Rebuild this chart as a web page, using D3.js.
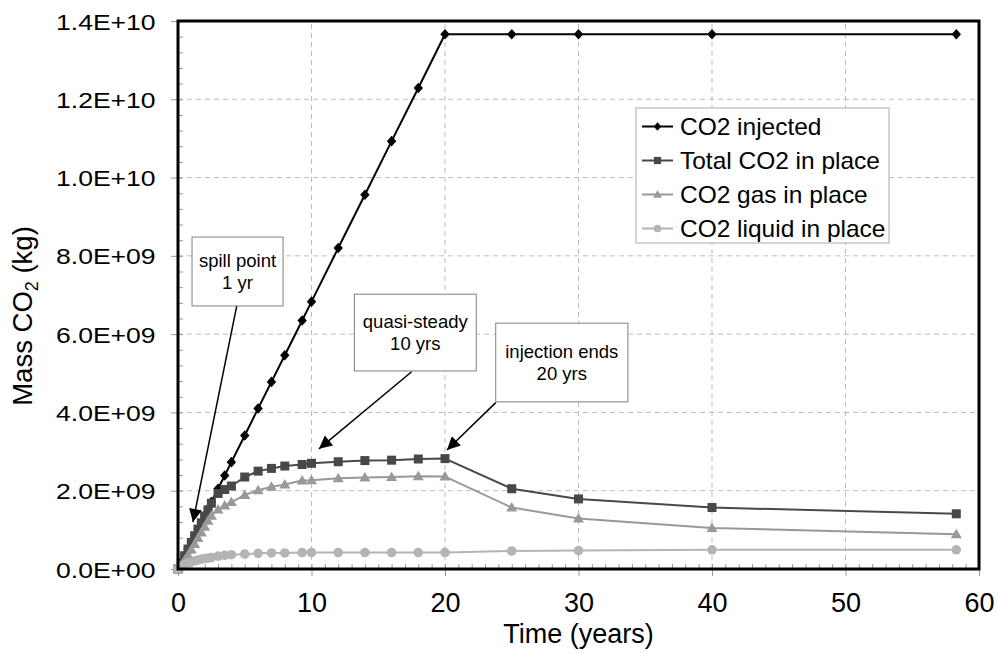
<!DOCTYPE html>
<html><head><meta charset="utf-8">
<script src="https://cdn.jsdelivr.net/npm/d3@7"></script>
<style>
body{margin:0;background:#fff}
text{font-family:"Liberation Sans",Arial,sans-serif;fill:#000}
</style>
</head><body>
<svg id="c" width="998" height="654"></svg>
<script>
// ---- data (time in years, mass in 1e9 kg) ----
const times    = [0,0.25,0.5,0.75,1,1.25,1.5,1.75,2,2.25,2.5,3,3.5,4,5,6,7,8,9.3,10,12,14,16,18,20,25,30,40,58.3];
const injected = [0,0.17,0.34,0.51,0.68,0.85,1.02,1.19,1.37,1.54,1.71,2.05,2.39,2.73,3.41,4.10,4.78,5.46,6.35,6.83,8.20,9.56,10.93,12.29,13.66,13.66,13.66,13.66,13.66];
const totalInPlace = [0,0.17,0.34,0.51,0.68,0.85,1.02,1.18,1.35,1.51,1.68,1.93,2.03,2.12,2.35,2.50,2.57,2.63,2.67,2.70,2.74,2.77,2.78,2.81,2.82,2.05,1.79,1.57,1.41];
const gasInPlace   = [0,0.11,0.23,0.36,0.50,0.64,0.79,0.93,1.08,1.23,1.36,1.52,1.62,1.71,1.89,2.01,2.10,2.16,2.26,2.27,2.32,2.34,2.35,2.37,2.36,1.57,1.29,1.05,0.89];
const liquidInPlace= [0,0.06,0.11,0.15,0.18,0.21,0.23,0.25,0.27,0.28,0.29,0.33,0.35,0.365,0.38,0.40,0.41,0.41,0.42,0.42,0.42,0.42,0.42,0.42,0.42,0.46,0.47,0.49,0.49];
const seriesNames  = ["CO2 injected","Total CO2 in place","CO2 gas in place","CO2 liquid in place"];
const xTicks = [0,10,20,30,40,50,60];
const yTicks = [0,2e9,4e9,6e9,8e9,1e10,1.2e10,1.4e10];
// annotations: label lines, box corners (years, kg), arrow start & tip (years, kg)
const annLabels = [["spill point","1 yr"],["quasi-steady","10 yrs"],["injection ends","20 yrs"]];
const annBoxes  = [[1.05,8.48e9,7.87,6.72e9],[13.21,7.02e9,22.34,5.06e9],[23.8,6.28e9,33.7,4.27e9]];
const annArrows = [[4.4,6.72e9,1.12,1.2e9],[17.5,5.04e9,10.56,3.07e9],[23.8,4.25e9,20.15,3.04e9]];

const svg = d3.select("#c");
const x = d3.scaleLinear().domain([0,60]).range([178,979]);
const y = d3.scaleLinear().domain([0,1.4e10]).range([569,21]);

const styles = [
  {color:"#000000", sym:"diamond", lw:2},
  {color:"#484848", sym:"square", lw:2},
  {color:"#999999", sym:"triangle", lw:2},
  {color:"#b4b4b4", sym:"circle", lw:2}
];
const seriesVals = [injected,totalInPlace,gasInPlace,liquidInPlace];

function marker(sel, sym, color, k){
  k = k||1;
  if(sym==="diamond") sel.append("path").attr("d",`M0,${-5.3*k}L${4.7*k},0L0,${5.3*k}L${-4.7*k},0Z`).attr("fill",color);
  else if(sym==="square") sel.append("rect").attr("x",-4.5*k).attr("y",-4.5*k).attr("width",9*k).attr("height",9*k).attr("fill",color);
  else if(sym==="triangle") sel.append("path").attr("d",`M0,${-5.5*k}L${5.5*k},${4*k}L${-5.5*k},${4*k}Z`).attr("fill",color);
  else sel.append("circle").attr("r",4.8*k).attr("fill",color);
}

// grid
const grid = svg.append("g");
grid.selectAll("line.gx").data(xTicks.filter(d=>d>0&&d<60)).join("line")
  .attr("x1",d=>x(d)).attr("x2",d=>x(d)).attr("y1",y(0)).attr("y2",y(1.4e10))
  .attr("stroke","#bdbdbd").attr("stroke-dasharray","5,4");
grid.selectAll("line.gy").data(yTicks.filter(d=>d>0&&d<1.4e10)).join("line")
  .attr("y1",d=>y(d)).attr("y2",d=>y(d)).attr("x1",x(0)).attr("x2",x(60))
  .attr("stroke","#bdbdbd").attr("stroke-dasharray","5,4");

// minor ticks (inside)
const gxm = svg.append("g").attr("transform",`translate(0,${y(0)})`)
  .call(d3.axisBottom(x).tickValues(d3.range(1,60)).tickSize(-5).tickFormat(""));
gxm.select(".domain").remove(); gxm.selectAll("line").attr("stroke","#999");
const gym = svg.append("g").attr("transform",`translate(${x(0)},0)`)
  .call(d3.axisLeft(y).tickValues(d3.range(1,35).map(i=>i*4e8)).tickSize(-5).tickFormat(""));
gym.select(".domain").remove(); gym.selectAll("line").attr("stroke","#999");

// major axes
const fmt = d => { if(d===0) return "0.0E+00"; const e=Math.floor(Math.log10(d)+1e-9); const m=d/Math.pow(10,e); return m.toFixed(1)+"E+"+String(e).padStart(2,"0"); };
const gx = svg.append("g").attr("transform",`translate(0,${y(0)})`)
  .call(d3.axisBottom(x).tickValues(xTicks).tickSize(7).tickSizeOuter(0).tickFormat(d3.format("d")));
gx.select(".domain").remove();
gx.selectAll("line").attr("stroke","#999");
gx.selectAll("text").attr("font-size",27).attr("y",43).attr("dy",0).style("font-family","'Liberation Sans',Arial");
const gy = svg.append("g").attr("transform",`translate(${x(0)},0)`)
  .call(d3.axisLeft(y).tickValues(yTicks).tickSize(7).tickSizeOuter(0).tickFormat(fmt));
gy.select(".domain").remove();
gy.selectAll("line").attr("stroke","#999");
gy.selectAll("text").attr("font-size",22.5).attr("x",-19).attr("dy","0.36em")
  .attr("transform","scale(1.18,1)").style("font-family","'Liberation Sans',Arial");

// series
const line = d3.line().x((d,i)=>x(times[i])).y(d=>y(d*1e9));
seriesVals.forEach((vals,si)=>{
  const st = styles[si];
  svg.append("path").datum(vals).attr("d",line).attr("fill","none")
    .attr("stroke",st.color).attr("stroke-width",st.lw).attr("stroke-linejoin","round");
  const g = svg.append("g");
  vals.forEach((v,i)=>{
    const m = g.append("g").attr("transform",`translate(${x(times[i])},${y(v*1e9)})`);
    marker(m, st.sym, st.color);
  });
});

// frame
svg.append("rect").attr("x",x(0)).attr("y",y(1.4e10)).attr("width",x(60)-x(0)).attr("height",y(0)-y(1.4e10))
  .attr("fill","none").attr("stroke","#000").attr("stroke-width",3);

// annotations
const defs = svg.append("defs");
defs.append("marker").attr("id","ah").attr("viewBox","0 0 10 10").attr("refX",10).attr("refY",5)
  .attr("markerWidth",15).attr("markerHeight",13).attr("markerUnits","userSpaceOnUse").attr("orient","auto")
  .append("path").attr("d","M0,0L10,5L0,10Z").attr("fill","#000");
annLabels.forEach((lab,i)=>{
  const b = annBoxes[i], a = annArrows[i];
  svg.append("line").attr("x1",x(a[0])).attr("y1",y(a[1])).attr("x2",x(a[2])).attr("y2",y(a[3]))
    .attr("stroke","#000").attr("stroke-width",1.5).attr("marker-end","url(#ah)");
  svg.append("rect").attr("x",x(b[0])).attr("y",y(b[1])).attr("width",x(b[2])-x(b[0])).attr("height",y(b[3])-y(b[1]))
    .attr("fill","#fff").attr("stroke","#808080").attr("stroke-width",1);
  const cx=(x(b[0])+x(b[2]))/2, cy=(y(b[1])+y(b[3]))/2;
  lab.forEach((t,j)=>{
    svg.append("text").attr("x",cx).attr("y",cy+(j-0.5)*22.5+6.5).attr("text-anchor","middle")
      .attr("font-size",18.5).text(t);
  });
});

// legend
const lg = svg.append("g").attr("transform","translate(636,108)");
lg.append("rect").attr("width",253).attr("height",135).attr("fill","#fff").attr("stroke","#aaa");
seriesNames.forEach((n,i)=>{
  const st=styles[i], ry = 18.5 + i*34;
  lg.append("line").attr("x1",6).attr("x2",37).attr("y1",ry).attr("y2",ry).attr("stroke",st.color).attr("stroke-width",2);
  const m = lg.append("g").attr("transform",`translate(21.5,${ry})`);
  marker(m, st.sym, st.color, 0.8);
  lg.append("text").attr("x",44/1.02).attr("y",ry+8.5).attr("font-size",24).attr("transform","scale(1.02,1)").text(n);
});

// axis titles
svg.append("text").attr("x",(x(0)+x(60))/2).attr("y",643).attr("text-anchor","middle").attr("font-size",27).text("Time (years)");
const yt = svg.append("text").attr("transform","translate(32,316) rotate(-90)").attr("text-anchor","middle").attr("font-size",27.5);
yt.append("tspan").text("Mass CO");
yt.append("tspan").attr("font-size",18).attr("dy",6).text("2");
yt.append("tspan").attr("dy",-6).text(" (kg)");
</script>
</body></html>
